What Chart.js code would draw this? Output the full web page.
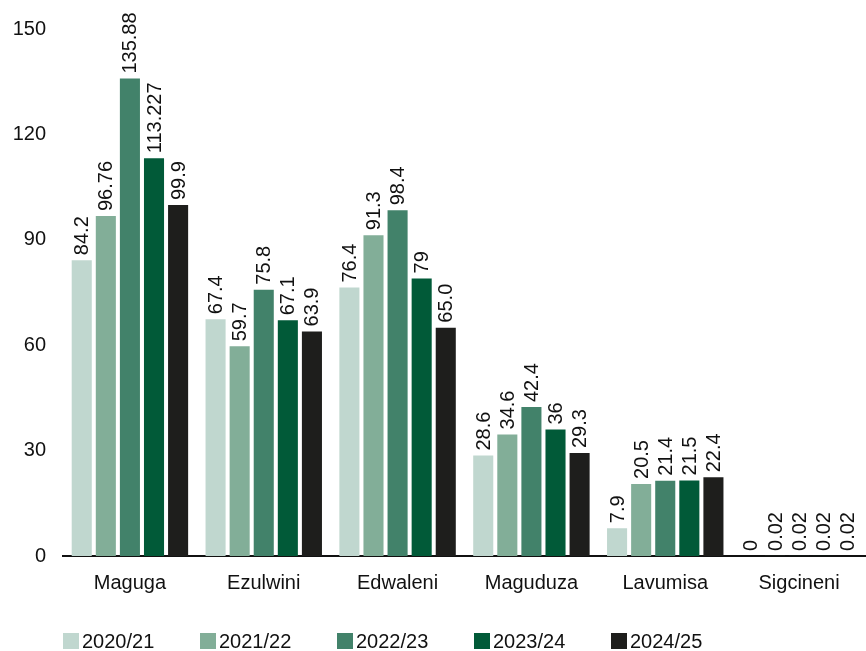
<!DOCTYPE html>
<html lang="en">
<head>
    <meta charset="UTF-8">
    <title>Stations by season</title>
    <script src="https://cdn.jsdelivr.net/npm/chart.js"></script>
    <style>
        body {
            margin: 0;
            background-color: #ffffff;
        }
        #barChart {
            display: block;
        }
    </style>
</head>
<body>
    <canvas id="barChart" width="866" height="651"></canvas>
    <script>
        const stations = ['Maguga', 'Ezulwini', 'Edwaleni', 'Maguduza', 'Lavumisa', 'Sigcineni'];
        const seasons = ['2020/21', '2021/22', '2022/23', '2023/24', '2024/25'];
        const seasonColors = ['#c0d7cf', '#82ae98', '#42826a', '#015a38', '#1e1e1c'];

        // value labels as printed above each bar, one list per season
        const labels2020 = ['84.2', '67.4', '76.4', '28.6', '7.9', '0'];
        const labels2021 = ['96.76', '59.7', '91.3', '34.6', '20.5', '0.02'];
        const labels2022 = ['135.88', '75.8', '98.4', '42.4', '21.4', '0.02'];
        const labels2023 = ['113.227', '67.1', '79', '36', '21.5', '0.02'];
        const labels2024 = ['99.9', '63.9', '65.0', '29.3', '22.4', '0.02'];
        const seasonLabels = [labels2020, labels2021, labels2022, labels2023, labels2024];

        const yTicks = [0, 30, 60, 90, 120, 150];

        const FONT = '"Liberation Sans", Arial, Helvetica, sans-serif';

        const datasets = seasons.map((season, i) => ({
            label: season,
            data: seasonLabels[i].map(Number),
            valueLabels: seasonLabels[i],
            backgroundColor: seasonColors[i],
            categoryPercentage: 0.9,
            barPercentage: 0.833,
        }));

        // rotated value labels sitting just above each bar
        const barValueLabels = {
            id: 'barValueLabels',
            afterDatasetsDraw(chart) {
                const ctx = chart.ctx;
                ctx.save();
                ctx.font = '20px ' + FONT;
                ctx.fillStyle = '#111111';
                ctx.textAlign = 'left';
                ctx.textBaseline = 'middle';
                chart.data.datasets.forEach((ds, i) => {
                    chart.getDatasetMeta(i).data.forEach((bar, j) => {
                        ctx.save();
                        ctx.translate(bar.x, bar.y - 5);
                        ctx.rotate(-Math.PI / 2);
                        ctx.fillText(ds.valueLabels[j], 0, 1);
                        ctx.restore();
                    });
                });
                ctx.restore();
            }
        };

        // legend row of square swatches under the axis
        const swatchLegend = {
            id: 'swatchLegend',
            afterDraw(chart) {
                const ctx = chart.ctx;
                const left = chart.chartArea.left;
                const top = 633;
                ctx.save();
                ctx.font = '20px ' + FONT;
                ctx.textAlign = 'left';
                ctx.textBaseline = 'middle';
                chart.data.datasets.forEach((ds, i) => {
                    const x = left + i * 137;
                    ctx.fillStyle = ds.backgroundColor;
                    ctx.fillRect(x, top, 16, 16);
                    ctx.fillStyle = '#111111';
                    ctx.fillText(ds.label, x + 19, top + 9);
                });
                ctx.restore();
            }
        };

        new Chart(document.getElementById('barChart'), {
            type: 'bar',
            data: {
                labels: stations,
                datasets: datasets,
            },
            options: {
                responsive: false,
                animation: false,
                layout: {
                    padding: { top: 18, left: 12, right: 0, bottom: 41 },
                },
                plugins: {
                    legend: { display: false },
                    tooltip: { enabled: false },
                },
                scales: {
                    x: {
                        grid: { display: false, drawTicks: false },
                        border: { display: true, color: '#111111', width: 2 },
                        ticks: {
                            color: '#111111',
                            font: { family: FONT, size: 20 },
                            padding: 15,
                        },
                    },
                    y: {
                        min: 0,
                        max: 150,
                        grid: { display: false, drawTicks: false },
                        border: { display: false },
                        afterBuildTicks(axis) {
                            axis.ticks = yTicks.map(v => ({ value: v }));
                        },
                        afterFit(axis) {
                            axis.width = 51;
                        },
                        ticks: {
                            color: '#111111',
                            font: { family: FONT, size: 20 },
                            padding: 17,
                        },
                    },
                },
            },
            plugins: [barValueLabels, swatchLegend],
        });
    </script>
</body>
</html>
